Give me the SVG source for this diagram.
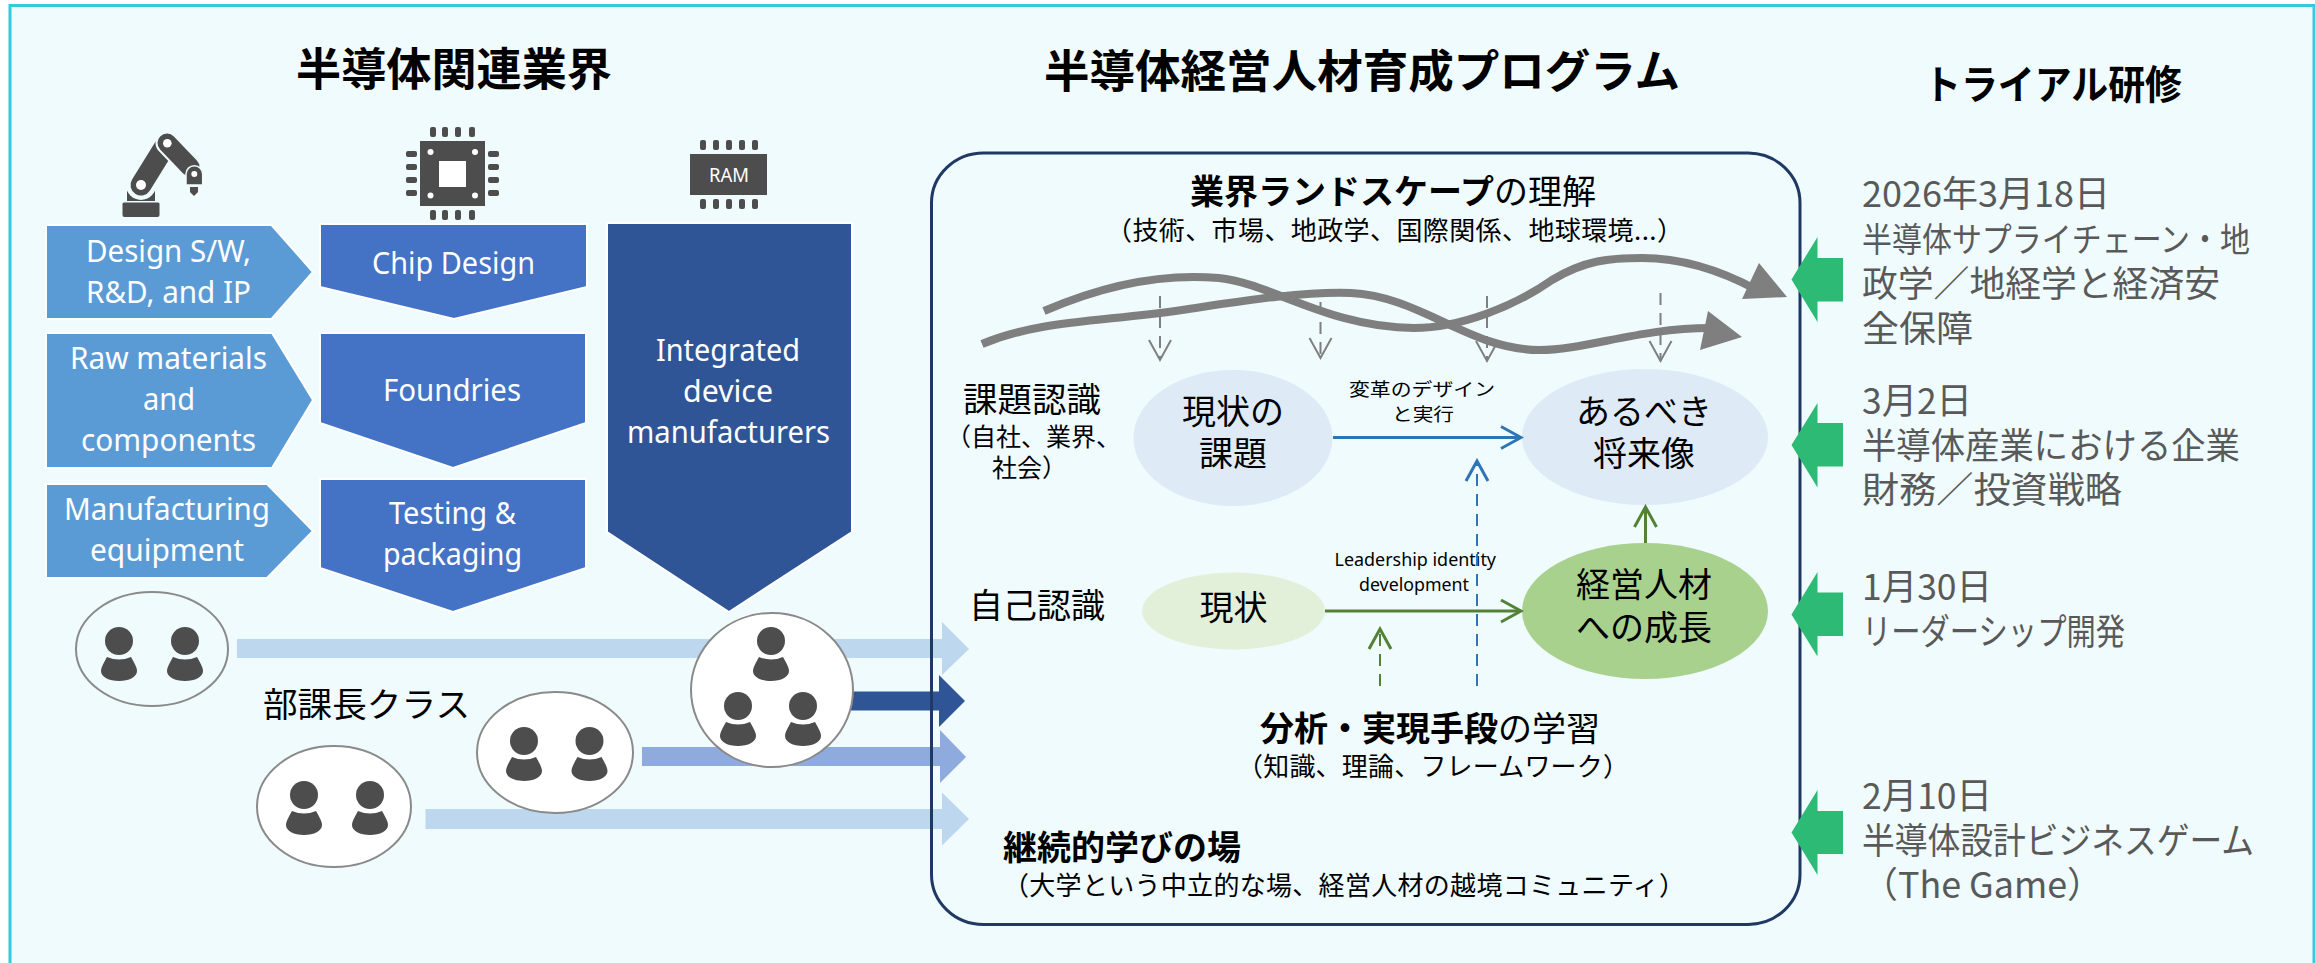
<svg xmlns="http://www.w3.org/2000/svg" width="2315" height="963" viewBox="0 0 2315 963">
<style>
text{font-family:"Noto Sans CJK JP","Noto Sans",sans-serif;fill:#000}
.lat{font-family:"Noto Sans","Noto Sans CJK JP",sans-serif;fill:#fff;font-size:30px;text-anchor:start}
.t{font-size:45px;font-weight:700}
.b{font-weight:700}
.m{font-size:34px}
.s{font-size:26px}
.n{font-size:18px}
.r{font-size:36px;fill:#595959}
.ic{fill:#4d4d4d}
.oval{stroke:#8a8a8a;stroke-width:2}
.dash{fill:none;stroke-width:2;stroke-dasharray:12 8}
.solid{fill:none;stroke-width:3}
.pent{fill:#5b9bd5;stroke:#fff;stroke-width:2}
.chev{fill:#4472c4;stroke:#fff;stroke-width:2}
.grn{fill:#2dba74}
</style>
<defs>
<marker id="hGrey" markerUnits="userSpaceOnUse" markerWidth="24" markerHeight="28" refX="21" refY="13" orient="auto"><path d="M1,2 L21,13 L1,24" fill="none" stroke="#7f7f7f" stroke-width="2"/></marker>
<marker id="hBlue" markerUnits="userSpaceOnUse" markerWidth="24" markerHeight="28" refX="21" refY="13" orient="auto"><path d="M1,2 L21,13 L1,24" fill="none" stroke="#2e75b6" stroke-width="3"/></marker>
<marker id="hGreen" markerUnits="userSpaceOnUse" markerWidth="24" markerHeight="28" refX="21" refY="13" orient="auto"><path d="M1,2 L21,13 L1,24" fill="none" stroke="#548235" stroke-width="3"/></marker>
<g id="person"><circle cx="0" cy="0" r="14" class="ic"/><path class="ic" d="M-12,16 Q0,21 12,16 C16,23 18,27 18,30 C18,36 10,40 0,40 C-10,40 -18,36 -18,30 C-18,27 -16,23 -12,16Z"/></g>
</defs>

<rect id="panel" x="10" y="5.5" width="2304" height="970" fill="#effbfd" stroke="#38c8dc" stroke-width="3"/>

<g id="titles">
<text class="t" x="296" y="86" textLength="316" lengthAdjust="spacingAndGlyphs">半導体関連業界</text>
<text class="t" x="1044" y="88" textLength="636" lengthAdjust="spacingAndGlyphs">半導体経営人材育成プログラム</text>
<text class="t" style="font-size:40px" x="1924" y="99" textLength="258" lengthAdjust="spacingAndGlyphs">トライアル研修</text>
</g>

<g id="icon-robot">
<rect class="ic" x="122.500" y="202" width="37" height="15" rx="2"/><rect class="ic" x="127" y="188" width="28" height="14"/>
<rect x="122" y="201" width="38" height="1.500" fill="#effbfd"/>
<circle cx="141" cy="185" r="15" fill="#effbfd"/>
<path d="M141,185 L167,143" stroke="#4d4d4d" stroke-width="21" stroke-linecap="round" fill="none"/>
<path d="M167,143 L190,167" stroke="#effbfd" stroke-width="23" stroke-linecap="round" fill="none"/>
<path d="M167,143 L190,167" stroke="#4d4d4d" stroke-width="19" stroke-linecap="round" fill="none"/>
<circle cx="141" cy="185" r="5" fill="#fff"/>
<circle cx="167.300" cy="143.300" r="4.300" fill="#fff"/>
<path d="M186,185 V174 A8.350,8.350 0 0 1 202.700,174 V185Z" fill="#4d4d4d" stroke="#effbfd" stroke-width="1.500"/><circle cx="194.300" cy="174" r="3" fill="#fff"/>
<path class="ic" d="M190,187 H198 V192 L194,196 L190,192Z"/>
</g>

<g id="icon-chip">
<rect class="ic" x="420" y="141" width="65" height="65"/>
<rect x="439" y="161" width="27" height="26" fill="#fff"/>
<g fill="#fff"><circle cx="430.500" cy="152" r="3"/><circle cx="475" cy="152" r="3"/><circle cx="430.500" cy="195.500" r="3"/><circle cx="475" cy="195.500" r="3"/></g>
<g class="ic">
<rect x="430" y="127" width="6" height="10" rx="2"/><rect x="442" y="127" width="6" height="10" rx="2"/><rect x="455" y="127" width="6" height="10" rx="2"/><rect x="469" y="127" width="6" height="10" rx="2"/>
<rect x="430" y="210" width="6" height="10" rx="2"/><rect x="442" y="210" width="6" height="10" rx="2"/><rect x="455" y="210" width="6" height="10" rx="2"/><rect x="469" y="210" width="6" height="10" rx="2"/>
<rect x="406" y="151" width="11" height="6" rx="2"/><rect x="406" y="164" width="11" height="6" rx="2"/><rect x="406" y="177" width="11" height="6" rx="2"/><rect x="406" y="190" width="11" height="6" rx="2"/>
<rect x="488" y="151" width="11" height="6" rx="2"/><rect x="488" y="164" width="11" height="6" rx="2"/><rect x="488" y="177" width="11" height="6" rx="2"/><rect x="488" y="190" width="11" height="6" rx="2"/>
</g>
</g>

<g id="icon-ram">
<rect class="ic" x="690" y="154" width="77" height="41"/>
<g class="ic">
<rect x="700" y="140" width="6" height="10" rx="2"/><rect x="713" y="140" width="6" height="10" rx="2"/><rect x="726" y="140" width="6" height="10" rx="2"/><rect x="739" y="140" width="6" height="10" rx="2"/><rect x="752" y="140" width="6" height="10" rx="2"/>
<rect x="700" y="199" width="6" height="10" rx="2"/><rect x="713" y="199" width="6" height="10" rx="2"/><rect x="726" y="199" width="6" height="10" rx="2"/><rect x="739" y="199" width="6" height="10" rx="2"/><rect x="752" y="199" width="6" height="10" rx="2"/>
</g>
<text class="lat" style="font-size:19px" x="709" y="182" textLength="40" lengthAdjust="spacingAndGlyphs">RAM</text>
</g>

<g id="node-design-sw"><path class="pent" d="M46,225 H271.500 L313,272 L271.500,319 H46Z"/>
<text class="lat" x="86" y="262" textLength="165" lengthAdjust="spacingAndGlyphs">Design S/W,</text>
<text class="lat" x="86" y="303" textLength="165" lengthAdjust="spacingAndGlyphs">R&amp;D, and IP</text></g>
<g id="node-raw"><path class="pent" d="M46,333 H272 L313,400 L272,468 H46Z"/>
<text class="lat" x="70" y="369" textLength="197" lengthAdjust="spacingAndGlyphs">Raw materials</text>
<text class="lat" x="143" y="410" textLength="52" lengthAdjust="spacingAndGlyphs">and</text>
<text class="lat" x="81" y="451" textLength="175" lengthAdjust="spacingAndGlyphs">components</text></g>
<g id="node-mfg"><path class="pent" d="M46,484 H267 L313,531 L267,578 H46Z"/>
<text class="lat" x="64" y="520" textLength="206" lengthAdjust="spacingAndGlyphs">Manufacturing</text>
<text class="lat" x="90" y="561" textLength="154" lengthAdjust="spacingAndGlyphs">equipment</text></g>

<g id="node-chip-design"><path class="chev" d="M320,224 H587 V287 L454,319 L320,287Z"/>
<text class="lat" x="372" y="274" textLength="163" lengthAdjust="spacingAndGlyphs">Chip Design</text></g>
<g id="node-foundries"><path class="chev" d="M320,333 H586 V423 L453,468 L320,423Z"/>
<text class="lat" x="383" y="401" textLength="138" lengthAdjust="spacingAndGlyphs">Foundries</text></g>
<g id="node-testing"><path class="chev" d="M320,479 H586 V568 L453,612 L320,568Z"/>
<text class="lat" x="389" y="524" textLength="127" lengthAdjust="spacingAndGlyphs">Testing &amp;</text>
<text class="lat" x="383" y="565" textLength="139" lengthAdjust="spacingAndGlyphs">packaging</text></g>
<g id="node-idm"><path d="M607,223 H852 V532 L729,612 L607,532Z" fill="#2f5597" stroke="#fff" stroke-width="2"/>
<text class="lat" x="656" y="361" textLength="144" lengthAdjust="spacingAndGlyphs">Integrated</text>
<text class="lat" x="683" y="402" textLength="90" lengthAdjust="spacingAndGlyphs">device</text>
<text class="lat" x="627" y="443" textLength="203" lengthAdjust="spacingAndGlyphs">manufacturers</text></g>

<g id="connectors-flow">
<path d="M237,639 H942 V622 L969,649 L942,675 V658 H237Z" fill="#bdd7ee"/>
<path d="M642,747 H940 V730 L966,757 L940,783 V766 H642Z" fill="#8faadc"/>
<path d="M845,691.500 H939 V675 L965,701 L939,727 V710.500 H845Z" fill="#2f5597"/>
<path d="M425.500,809 H942 V792.500 L969,819 L942,845.500 V829 H425.500Z" fill="#bdd7ee"/>
</g>

<g id="group-1"><ellipse class="oval" cx="152" cy="649" rx="76" ry="57" fill="#effbfd"/><use href="#person" x="119" y="641"/><use href="#person" x="185" y="641"/></g>
<g id="group-4"><ellipse class="oval" cx="772" cy="690" rx="81" ry="77" fill="#fff"/><use href="#person" x="771" y="641"/><use href="#person" x="738" y="706"/><use href="#person" x="803" y="706"/></g>
<g id="group-2"><ellipse class="oval" cx="555" cy="752.500" rx="78" ry="60.500" fill="#fff"/><use href="#person" x="524" y="741"/><use href="#person" x="589.500" y="741"/></g>
<g id="group-3"><ellipse class="oval" cx="334" cy="806.500" rx="77" ry="60.500" fill="#fff"/><use href="#person" x="304" y="795"/><use href="#person" x="370" y="795"/></g>
<text id="label-class" class="m" x="263" y="717" textLength="207" lengthAdjust="spacingAndGlyphs">部課長クラス</text>

<rect id="program-frame" x="931.500" y="153" width="868.500" height="771.500" rx="52" ry="50" fill="none" stroke="#1f3864" stroke-width="3"/>

<g id="landscape-label">
<text class="m" x="1190" y="204"><tspan class="b">業界ランドスケープ</tspan>の理解</text>
<text class="s" style="letter-spacing:.4px" x="1106" y="240">（技術、市場、地政学、国際関係、地球環境...）</text>
</g>

<g id="connectors-landscape">
<path class="dash" d="M1160,296 V360" stroke="#7f7f7f" marker-end="url(#hGrey)"/>
<path class="dash" d="M1320.500,302 V358" stroke="#7f7f7f" marker-end="url(#hGrey)"/>
<path class="dash" d="M1487,296 V361" stroke="#7f7f7f" marker-end="url(#hGrey)"/>
<path class="dash" d="M1660.500,293 V361" stroke="#7f7f7f" marker-end="url(#hGrey)"/>
<path d="M1044,311 C1090,291 1150,272 1219,278 C1270,283 1330,328 1414,328 C1460,328 1515,306 1552,280 C1585,260 1610,258 1642,258 C1680,258 1720,270 1757,290" fill="none" stroke="#7f7f7f" stroke-width="8"/>
<path d="M1759,263 L1787,297 L1742,299Z" fill="#7f7f7f"/>
<path d="M982,344 C1040,320 1100,322 1182,310 C1230,303 1300,291 1351,293 C1420,296 1470,350 1539,350 C1585,350 1640,328 1710,328" fill="none" stroke="#7f7f7f" stroke-width="8"/>
<path d="M1708,311 L1742,337 L1700,350Z" fill="#7f7f7f"/>
</g>

<g id="label-kadai">
<text class="m" x="963" y="412" textLength="138" lengthAdjust="spacingAndGlyphs">課題認識</text>
<text class="s" style="font-size:25px" x="946" y="446">（自社、業界、</text>
<text class="s" style="font-size:25px" x="992" y="477">社会）</text>
</g>
<g id="node-current-issue"><ellipse cx="1233" cy="438" rx="99.500" ry="68" fill="#deebf7"/>
<text class="m" x="1233" y="424" text-anchor="middle">現状の</text><text class="m" x="1233" y="466" text-anchor="middle">課題</text></g>
<g id="node-future"><ellipse cx="1645" cy="437" rx="123" ry="68" fill="#deebf7"/>
<text class="m" x="1644" y="424" text-anchor="middle">あるべき</text><text class="m" x="1644" y="466" text-anchor="middle">将来像</text></g>
<g id="label-change"><text class="n" x="1349" y="396" textLength="146" lengthAdjust="spacingAndGlyphs">変革のデザイン</text><text class="n" x="1392" y="421" textLength="62" lengthAdjust="spacingAndGlyphs">と実行</text></g>

<g id="label-self"><text class="m" x="969" y="618" textLength="136" lengthAdjust="spacingAndGlyphs">自己認識</text></g>
<g id="node-current"><ellipse cx="1233.500" cy="611" rx="91.500" ry="38.500" fill="#e2f0d9"/><text class="m" x="1233.500" y="620" text-anchor="middle">現状</text></g>
<g id="node-growth"><ellipse cx="1645" cy="611" rx="123" ry="68" fill="#a9d18e"/>
<text class="m" x="1644" y="597" text-anchor="middle">経営人材</text><text class="m" x="1644" y="640" text-anchor="middle">への成長</text></g>
<g id="label-leadership"><text class="n" style="font-family:'Noto Sans',sans-serif" x="1334.500" y="566" textLength="161.500" lengthAdjust="spacingAndGlyphs">Leadership identity</text><text class="n" style="font-family:'Noto Sans',sans-serif" x="1359" y="591" textLength="110" lengthAdjust="spacingAndGlyphs">development</text></g>

<g id="connectors-inner">
<path class="solid" d="M1333,437.500 H1521" stroke="#2e75b6" marker-end="url(#hBlue)"/>
<path class="solid" d="M1325,611 H1521" stroke="#548235" marker-end="url(#hGreen)"/>
<path class="solid" d="M1645.500,543 V507" stroke="#548235" marker-end="url(#hGreen)"/>
<path class="dash" d="M1477,686 V461" stroke="#2e75b6" marker-end="url(#hBlue)"/>
<path class="dash" d="M1380,686 V629" stroke="#548235" marker-end="url(#hGreen)"/>
</g>

<g id="label-learning">
<text class="m" x="1260" y="741"><tspan class="b">分析・実現手段</tspan>の学習</text>
<text class="s" style="letter-spacing:.2px" x="1237" y="776">（知識、理論、フレームワーク）</text>
</g>
<g id="label-community">
<text class="m b" x="1003" y="860">継続的学びの場</text>
<text class="s" style="letter-spacing:.3px" x="1003" y="895">（大学という中立的な場、経営人材の越境コミュニティ）</text>
</g>

<g id="connectors-trial">
<path class="grn" d="M1843,258 V301.500 H1817.500 V322 L1791.500,279.500 L1817.500,237 V258Z"/>
<path class="grn" d="M1843,423 V466.500 H1817.500 V487.500 L1791.500,445 L1817.500,403 V423Z"/>
<path class="grn" d="M1843,592.500 V636 H1817.500 V656.500 L1791.500,614.500 L1817.500,572 V592.500Z"/>
<path class="grn" d="M1843,811 V854 H1817.500 V875 L1791.500,832.500 L1817.500,790 V811Z"/>
</g>

<g id="trial-1">
<text class="r" x="1862" y="207" textLength="248" lengthAdjust="spacingAndGlyphs">2026年3月18日</text>
<text class="r" style="font-size:34px" x="1862" y="252" textLength="388" lengthAdjust="spacingAndGlyphs">半導体サプライチェーン・地</text>
<text class="r" x="1862" y="297" textLength="358" lengthAdjust="spacingAndGlyphs">政学／地経学と経済安</text>
<text class="r" x="1862" y="342" textLength="111" lengthAdjust="spacingAndGlyphs">全保障</text>
</g>
<g id="trial-2">
<text class="r" x="1862" y="414" textLength="110" lengthAdjust="spacingAndGlyphs">3月2日</text>
<text class="r" x="1862" y="459" textLength="378" lengthAdjust="spacingAndGlyphs">半導体産業における企業</text>
<text class="r" x="1862" y="503" textLength="260" lengthAdjust="spacingAndGlyphs">財務／投資戦略</text>
</g>
<g id="trial-3">
<text class="r" x="1862" y="600" textLength="130" lengthAdjust="spacingAndGlyphs">1月30日</text>
<text class="r" x="1862" y="645" textLength="263" lengthAdjust="spacingAndGlyphs">リーダーシップ開発</text>
</g>
<g id="trial-4">
<text class="r" x="1862" y="809" textLength="130" lengthAdjust="spacingAndGlyphs">2月10日</text>
<text class="r" x="1862" y="854" textLength="392" lengthAdjust="spacingAndGlyphs">半導体設計ビジネスゲーム</text>
<text class="r" x="1862" y="898" textLength="241" lengthAdjust="spacingAndGlyphs">（The Game）</text>
</g>
</svg>
